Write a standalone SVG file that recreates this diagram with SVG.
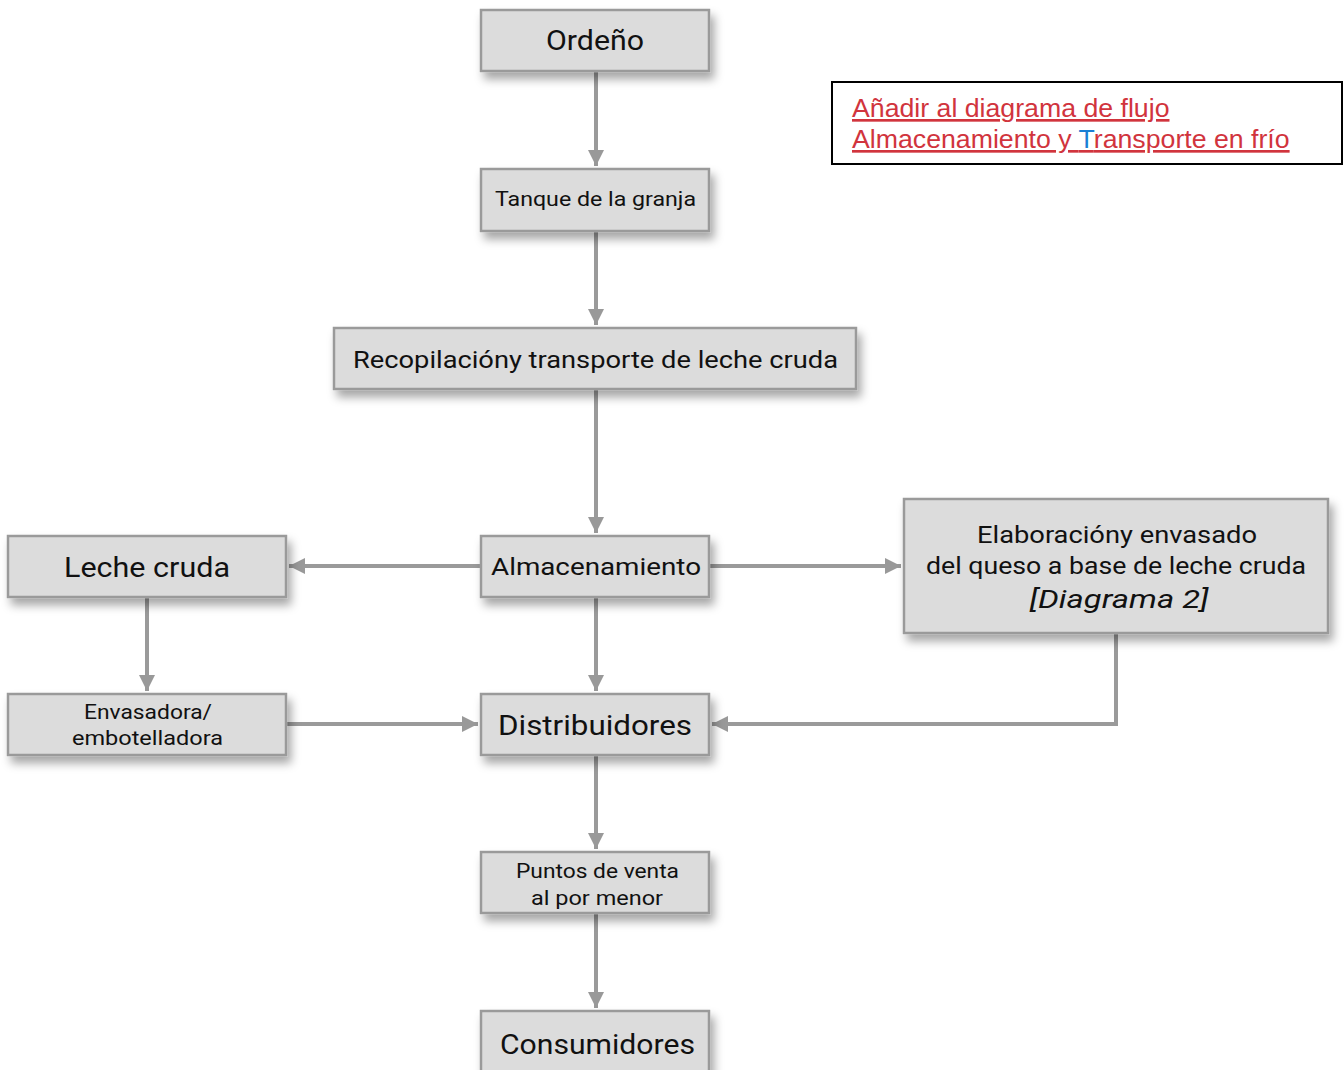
<svg xmlns="http://www.w3.org/2000/svg" width="1344" height="1070" viewBox="0 0 1344 1070">
<defs>
<filter id="sh" x="-10%" y="-20%" width="125%" height="150%">
<feDropShadow dx="4" dy="7" stdDeviation="5" flood-color="#000" flood-opacity="0.35"/>
</filter>
<marker id="ah" viewBox="0 0 10 10" refX="10" refY="5" markerWidth="4" markerHeight="4" markerUnits="strokeWidth" orient="auto">
<path d="M0,0 L10,5 L0,10 z" fill="#999"/>
</marker>
<style>
.box{fill:#dcdcdc;stroke:#9a9a9a;stroke-width:2.5;filter:url(#sh)}
.t{font-family:"Roboto","DejaVu Sans",sans-serif;font-weight:400;fill:#111;text-anchor:middle}
.c{fill:none;stroke:#9a9a9a;stroke-width:4}
.note{font-family:"Liberation Sans",Arial,sans-serif;font-size:26.7px;fill:#d1343d;text-decoration:underline}
</style>
</defs>
<rect width="1344" height="1070" fill="#fff"/>
<g id="connectors">
<path class="c" d="M596,71 V166" marker-end="url(#ah)"/>
<path class="c" d="M596,231 V325" marker-end="url(#ah)"/>
<path class="c" d="M596,389 V533" marker-end="url(#ah)"/>
<path class="c" d="M481,566 H289" marker-end="url(#ah)"/>
<path class="c" d="M709,566 H901" marker-end="url(#ah)"/>
<path class="c" d="M596,597 V691" marker-end="url(#ah)"/>
<path class="c" d="M147,597 V691" marker-end="url(#ah)"/>
<path class="c" d="M286,724 H478" marker-end="url(#ah)"/>
<path class="c" d="M1116,633 V724 H712" marker-end="url(#ah)"/>
<path class="c" d="M596,755 V849" marker-end="url(#ah)"/>
<path class="c" d="M596,913 V1008" marker-end="url(#ah)"/>
</g>
<g id="n-ordeno"><rect class="box" x="481" y="10" width="228" height="61"/><text class="t" x="595" y="50" font-size="27" textLength="98" lengthAdjust="spacingAndGlyphs">Ordeño</text></g>
<g id="n-tanque"><rect class="box" x="481" y="169" width="228" height="62"/><text class="t" x="595.5" y="206" font-size="20" textLength="201" lengthAdjust="spacingAndGlyphs">Tanque de la granja</text></g>
<g id="n-recop"><rect class="box" x="334" y="328" width="522" height="61"/><text class="t" x="595.5" y="368" font-size="24" textLength="485" lengthAdjust="spacingAndGlyphs">Recopilacióny transporte de leche cruda</text></g>
<g id="n-almac"><rect class="box" x="481" y="536" width="228" height="61"/><text class="t" x="596" y="575" font-size="24" textLength="210" lengthAdjust="spacingAndGlyphs">Almacenamiento</text></g>
<g id="n-leche"><rect class="box" x="8" y="536" width="278" height="61"/><text class="t" x="147" y="577" font-size="28" textLength="166" lengthAdjust="spacingAndGlyphs">Leche cruda</text></g>
<g id="n-elab"><rect class="box" x="904" y="499" width="424" height="134"/>
<text class="t" x="1117" y="543" font-size="24" textLength="280" lengthAdjust="spacingAndGlyphs">Elaboracióny envasado</text>
<text class="t" x="1116" y="574" font-size="24" textLength="380" lengthAdjust="spacingAndGlyphs">del queso a base de leche cruda</text>
<text class="t" x="1119" y="608" font-size="26" font-style="italic" textLength="179" lengthAdjust="spacingAndGlyphs">[Diagrama 2]</text></g>
<g id="n-envas"><rect class="box" x="8" y="694" width="278" height="61"/>
<text class="t" x="148" y="719" font-size="20" textLength="128" lengthAdjust="spacingAndGlyphs">Envasadora/</text>
<text class="t" x="147.5" y="745" font-size="20" textLength="151" lengthAdjust="spacingAndGlyphs">embotelladora</text></g>
<g id="n-distr"><rect class="box" x="481" y="694" width="228" height="61"/><text class="t" x="595" y="735" font-size="28" textLength="194" lengthAdjust="spacingAndGlyphs">Distribuidores</text></g>
<g id="n-puntos"><rect class="box" x="481" y="852" width="228" height="61"/>
<text class="t" x="597.5" y="878" font-size="20" textLength="163" lengthAdjust="spacingAndGlyphs">Puntos de venta</text>
<text class="t" x="597" y="905" font-size="20" textLength="132" lengthAdjust="spacingAndGlyphs">al por menor</text></g>
<g id="n-consum"><rect class="box" x="481" y="1011" width="228" height="70"/><text class="t" x="597.5" y="1054" font-size="28" textLength="195" lengthAdjust="spacingAndGlyphs">Consumidores</text></g>
<g id="note">
<rect x="832" y="82" width="510" height="82" fill="#fff" stroke="#000" stroke-width="2"/>
<text class="note" x="852" y="117">Añadir al diagrama de flujo</text>
<text class="note" x="852" y="148">Almacenamiento y <tspan fill="#1a7fd4">T</tspan>ransporte en frío</text>
</g>
</svg>
